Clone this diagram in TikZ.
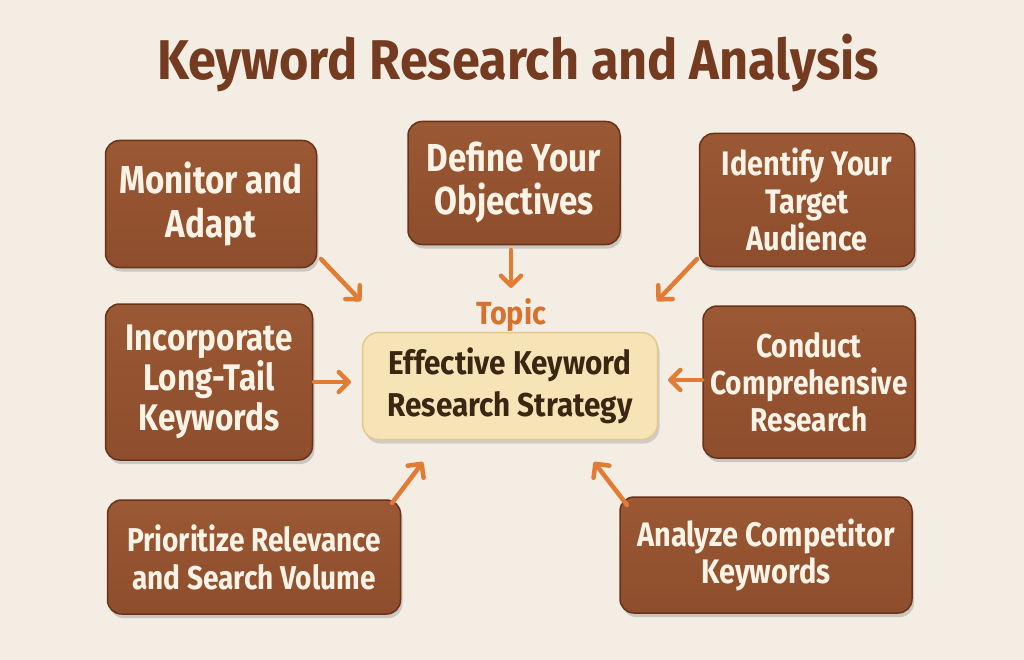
\documentclass[tikz,border=0pt]{standalone}
\usepackage{fontspec}
\setmainfont{Fira Sans}
\newfontfamily\boxfont[FakeStretch=0.85]{Fira Sans}
\newfontfamily\cenfont[FakeStretch=0.9]{Fira Sans}
\newfontfamily\titfont[FakeStretch=0.9]{Fira Sans}
\usetikzlibrary{shadows,arrows.meta}
\definecolor{bg}{HTML}{F3EDE4}
\definecolor{boxbrown}{HTML}{8E4D2C}
\definecolor{boxtop}{HTML}{9A5834}
\definecolor{boxedge}{HTML}{6A3319}
\definecolor{cream}{HTML}{FBF3E6}
\definecolor{centerfill}{HTML}{F6E4B6}
\definecolor{centeredge}{HTML}{E3C98E}
\definecolor{darktext}{HTML}{3B2614}
\definecolor{topicor}{HTML}{D8702E}
\definecolor{arrowor}{HTML}{E27C34}
\definecolor{titlebrown}{HTML}{743B20}
\newcommand{\bfs}[2]{\boxfont\fontsize{#1}{#2}\selectfont\bfseries}
\tikzset{
  brownbox/.style={rectangle, rounded corners=14pt, draw=boxedge, line width=1.5pt,
    top color=boxtop, bottom color=boxbrown, text=cream, align=center, inner sep=0pt,
    drop shadow={opacity=0.35, shadow xshift=2pt, shadow yshift=-4pt}},
  centerbox/.style={rectangle, rounded corners=16pt, draw=centeredge, line width=1.5pt,
    fill=centerfill, text=darktext, align=center,
    font=\cenfont\fontsize{33}{42}\selectfont\bfseries, inner sep=0pt,
    drop shadow={opacity=0.3, shadow xshift=2pt, shadow yshift=-4pt}},
  conn/.style={draw=arrowor, line width=4.5pt, line cap=round,
    -{Straight Barb[length=10pt, width=20pt, line width=4.5pt, round]}},
}
\begin{document}
\begin{tikzpicture}[x=1pt,y=-1pt]
\fill[bg] (0,0) rectangle (1024,660);
\useasboundingbox (0,0) rectangle (1024,660);
% title
\node[text=titlebrown, font=\titfont\fontsize{56}{60}\selectfont\bfseries] (title) at (518,63) {Keyword Research and Analysis};
% boxes
\node[brownbox, minimum width=211pt, minimum height=127pt, font=\bfs{39}{44}] (mon) at (211,204) {Monitor and\\Adapt};
\node[brownbox, minimum width=212pt, minimum height=123pt, font=\bfs{39}{43}] (def) at (514,183) {Define Your\\Objectives};
\node[brownbox, minimum width=215pt, minimum height=133pt, font=\bfs{34}{37.5}] (ide) at (807,200) {Identify Your\\Target\\Audience};
\node[brownbox, minimum width=207pt, minimum height=156pt, font=\bfs{37}{40}] (inc) at (209,382) {Incorporate\\Long-Tail\\Keywords};
\node[brownbox, minimum width=212pt, minimum height=152pt, font=\bfs{33}{37}] (con) at (809,382) {Conduct\\Comprehensive\\Research};
\node[brownbox, minimum width=293pt, minimum height=114pt, font=\bfs{33}{38}] (pri) at (254,557) {Prioritize Relevance\\and Search Volume};
\node[brownbox, minimum width=292pt, minimum height=116pt, font=\bfs{34}{37}] (ana) at (766,555) {Analyze Competitor\\Keywords};
% center
\node[centerbox, minimum width=295pt, minimum height=107pt] (cen) at (510,386) {Effective Keyword\\Research Strategy};
\node[text=topicor, font=\cenfont\fontsize{32}{34}\selectfont\bfseries] (topic) at (511,315) {Topic};
% arrow anchor coordinates
\coordinate (monA) at (321,259); \coordinate (monB) at (361,301);
\coordinate (defA) at (511,250); \coordinate (defB) at (511,288);
\coordinate (ideA) at (697,259); \coordinate (ideB) at (657,301);
\coordinate (incA) at (314,382); \coordinate (incB) at (351,382);
\coordinate (conA) at (702,380); \coordinate (conB) at (668,380);
\coordinate (priA) at (392,503); \coordinate (priB) at (423,462);
\coordinate (anaA) at (627,505); \coordinate (anaB) at (594,462);
\draw[conn] (monA) -- (monB);
\draw[conn] (defA) -- (defB);
\draw[conn] (ideA) -- (ideB);
\draw[conn] (incA) -- (incB);
\draw[conn] (conA) -- (conB);
\draw[conn] (priA) -- (priB);
\draw[conn] (anaA) -- (anaB);
\end{tikzpicture}
\end{document}
